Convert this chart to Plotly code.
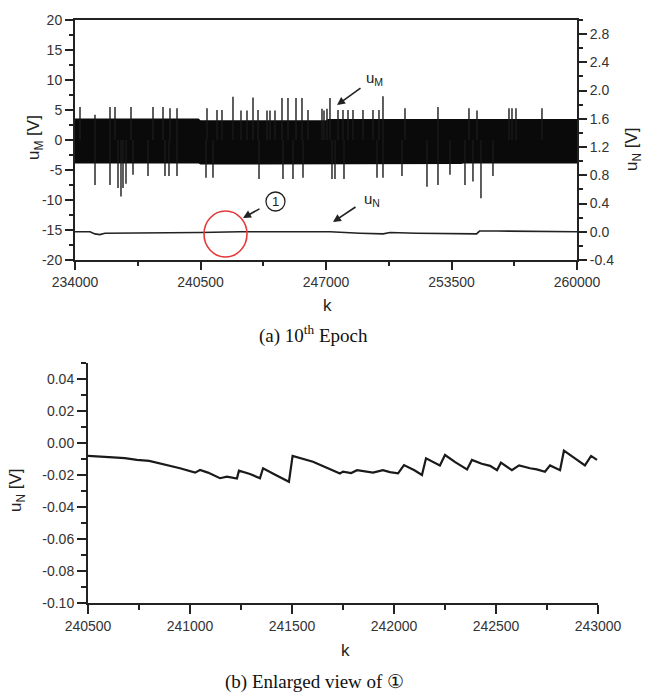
import plotly.graph_objects as go

W, H = 655, 697

# ---------------- Data: panel (a) ----------------
# envelope of the dense u_M band (k, upper, lower)
band_k = [234000, 240400, 240500, 247000, 247100, 254000, 254100, 260000]
band_hi = [3.6, 3.6, 3.3, 3.3, 3.5, 3.5, 3.5, 3.5]
band_lo = [-3.9, -3.9, -4.1, -4.1, -4.0, -4.0, -3.9, -3.9]

# upward spikes of u_M
up_k = [234259, 235036, 235813, 236072, 236900, 238040, 238558, 238920, 239283,
        240836, 241354, 241613, 242183, 242597, 242908, 243219, 243478, 243944,
        244099, 244358, 244721, 245031, 245446, 245756, 246067, 246792, 246896,
        247051, 247206, 247621, 247880, 248139, 248398, 248915, 249433, 249744,
        249951, 251091, 252800, 254405, 254820, 256477, 256633, 256840, 258186]
up_v = [5.5, 4.2, 5.5, 5.5, 5.5, 5.5, 5.5, 5.3, 5.3,
        5.3, 5.0, 5.0, 7.2, 4.9, 4.9, 7.1, 5.0, 4.9,
        4.9, 4.9, 7.0, 7.0, 7.0, 7.0, 5.0, 5.2, 4.9,
        5.2, 7.0, 5.0, 5.0, 5.0, 5.0, 5.0, 5.0, 5.0,
        7.3, 5.3, 5.5, 5.3, 4.9, 5.3, 5.3, 5.3, 5.3]

# downward spikes of u_M
dn_k = [235036, 235813, 236227, 236382, 236486, 236641, 237004, 237781, 238661,
        238868, 239283, 240785, 241147, 243530, 244772, 245290, 245808, 247310,
        247465, 247932, 249641, 249951, 250935, 252230, 252800, 253421, 254198,
        254612, 255027, 255648]
dn_v = [-7.5, -7.5, -8.0, -9.4, -8.0, -7.3, -5.8, -6.0, -6.0,
        -6.0, -6.0, -6.3, -6.3, -6.5, -6.5, -6.5, -6.3, -6.5,
        -6.5, -6.5, -6.3, -6.3, -6.0, -7.8, -7.5, -5.8, -7.5,
        -6.9, -9.7, -6.0]

# u_N in panel (a), right axis
un_k = [234000, 234780, 235030, 235290, 235550, 236850, 238920, 240480, 242550,
        245660, 247210, 248760, 249960, 250320, 251700, 254800, 254950, 255850, 260000]
un_v = [0.0, 0.0, -0.03, -0.04, -0.02, -0.02, -0.01, -0.01, 0.0,
        0.005, 0.0, -0.02, -0.03, -0.01, -0.02, -0.03, 0.01, 0.01, 0.0]

# ---------------- Data: panel (b) ----------------
zk = [240500, 240560, 240623, 240680, 240740, 240800, 240853, 240900, 240951,
      241025, 241049, 241088, 241147, 241181, 241230, 241240, 241294, 241343,
      241358, 241420, 241485, 241503, 241550, 241603, 241676, 241735, 241750,
      241790, 241819, 241860, 241897, 241946, 241980, 242020, 242049, 242100,
      242137, 242157, 242225, 242250, 242300, 242358, 242382, 242430, 242471,
      242505, 242524, 242578, 242613, 242667, 242700, 242740, 242765, 242814,
      242833, 242880, 242936, 242966, 242995]
zv = [-0.0081, -0.0084, -0.0090, -0.0095, -0.0106, -0.0112, -0.0127, -0.0140, -0.0158,
      -0.0185, -0.0169, -0.0185, -0.0220, -0.0210, -0.0222, -0.0173, -0.0194, -0.0220,
      -0.0158, -0.0200, -0.0242, -0.0081, -0.0098, -0.0117, -0.0158, -0.0190, -0.0179,
      -0.0188, -0.0170, -0.0180, -0.0185, -0.0170, -0.0182, -0.0190, -0.0138, -0.0170,
      -0.0200, -0.0096, -0.0140, -0.0075, -0.0120, -0.0165, -0.0106, -0.0130, -0.0143,
      -0.0170, -0.0123, -0.0170, -0.0140, -0.0158, -0.0165, -0.0180, -0.0140, -0.0170,
      -0.0048, -0.0090, -0.0140, -0.0081, -0.0106]

# tick labels
xa_ticks = [234000, 240500, 247000, 253500, 260000]
ya_ticks = [-20, -15, -10, -5, 0, 5, 10, 15, 20]
ya_text = ["-20", "-15", "-10", "-5", "0", "5", "10", "15", "20"]
y2_ticks = [-0.4, 0.0, 0.4, 0.8, 1.2, 1.6, 2.0, 2.4, 2.8]
y2_text = ["-0.4", "0.0", "0.4", "0.8", "1.2", "1.6", "2.0", "2.4", "2.8"]
xb_ticks = [240500, 241000, 241500, 242000, 242500, 243000]
yb_ticks = [-0.10, -0.08, -0.06, -0.04, -0.02, 0.00, 0.02, 0.04]
yb_text = ["-0.10", "-0.08", "-0.06", "-0.04", "-0.02", "0.00", "0.02", "0.04"]


def px(x):
    return x / W


def py(y):
    return 1 - y / H


fig = go.Figure()

# u_M band
fig.add_trace(go.Scatter(x=band_k, y=band_lo, mode="lines", line=dict(width=0, color="black"),
                         xaxis="x", yaxis="y", showlegend=False, hoverinfo="skip"))
fig.add_trace(go.Scatter(x=band_k, y=band_hi, mode="lines", line=dict(width=0, color="black"),
                         fill="tonexty", fillcolor="#0a0a0a",
                         xaxis="x", yaxis="y", showlegend=False, hoverinfo="skip"))

# spikes
sx, sy = [], []
for k, v in zip(up_k, up_v):
    sx += [k, k, None]
    sy += [0, v, None]
for k, v in zip(dn_k, dn_v):
    sx += [k, k, None]
    sy += [0, v, None]
fig.add_trace(go.Scatter(x=sx, y=sy, mode="lines", line=dict(width=1.4, color="#1a1a1a"),
                         xaxis="x", yaxis="y", showlegend=False, hoverinfo="skip"))

# u_N top
fig.add_trace(go.Scatter(x=un_k, y=un_v, mode="lines", line=dict(width=1.6, color="#222"),
                         xaxis="x", yaxis="y2", showlegend=False))

# u_N zoom
fig.add_trace(go.Scatter(x=zk, y=zv, mode="lines", line=dict(width=2.2, color="#1a1a1a"),
                         xaxis="x2", yaxis="y3", showlegend=False))

tickfont = dict(family="Liberation Sans, Arial", size=14, color="#333")
axline = dict(showline=True, linecolor="#222", linewidth=2, ticks="outside",
              tickcolor="#222", tickwidth=2, showgrid=False, zeroline=False,
              tickfont=tickfont)

fig.update_layout(
    width=W, height=H, autosize=False,
    margin=dict(l=0, r=0, t=0, b=0, autoexpand=False),
    paper_bgcolor="white", plot_bgcolor="white",
    xaxis=dict(domain=[px(75), px(577)], anchor="y", range=[234000, 260000],
               tickmode="array", tickvals=xa_ticks, ticktext=[str(t) for t in xa_ticks],
               ticklen=8, mirror=True,
               minor=dict(tickmode="linear", tick0=234000, dtick=3250, ticklen=4,
                          ticks="outside", tickcolor="#222", tickwidth=2),
               **axline),
    yaxis=dict(domain=[py(260), py(20)], anchor="x", range=[-20, 20],
               tickmode="array", tickvals=ya_ticks, ticktext=ya_text, ticklen=8,
               minor=dict(tickmode="linear", tick0=-20, dtick=2.5, ticklen=4,
                          ticks="outside", tickcolor="#222", tickwidth=2),
               **axline),
    yaxis2=dict(overlaying="y", side="right", anchor="x", range=[-0.4, 3.0],
                tickmode="array", tickvals=y2_ticks, ticktext=y2_text, ticklen=8,
                minor=dict(tickmode="linear", tick0=-0.4, dtick=0.2, ticklen=4,
                           ticks="outside", tickcolor="#222", tickwidth=2),
                **axline),
    xaxis2=dict(domain=[px(88), px(598)], anchor="y3", range=[240500, 243000],
                tickmode="array", tickvals=xb_ticks, ticktext=[str(t) for t in xb_ticks],
                ticklen=9,
                minor=dict(tickmode="linear", tick0=240500, dtick=250, ticklen=5,
                           ticks="outside", tickcolor="#222", tickwidth=2),
                **axline),
    yaxis3=dict(domain=[py(603), py(363)], anchor="x2", range=[-0.10, 0.05],
                tickmode="array", tickvals=yb_ticks, ticktext=yb_text, ticklen=9,
                minor=dict(tickmode="linear", tick0=-0.10, dtick=0.01, ticklen=5,
                           ticks="outside", tickcolor="#222", tickwidth=2),
                **axline),
)

lab = dict(family="Liberation Sans, Arial", size=17, color="#222")
serif = dict(family="Liberation Serif, Times New Roman", size=19, color="#111")
ann = []


def text(x, y, t, font, angle=0):
    ann.append(dict(x=px(x), y=py(y), xref="paper", yref="paper", text=t, showarrow=False,
                    font=font, textangle=angle, xanchor="center", yanchor="middle"))


text(35, 138, "u<sub>M</sub> [V]", lab, -90)
text(633, 149, "u<sub>N</sub> [V]", lab, -90)
text(327, 306, "k", lab)
text(313, 334, "(a) 10<sup>th</sup> Epoch", serif)
text(17, 490, "u<sub>N</sub> [V]", lab, -90)
text(345, 650, "k", lab)
text(314, 682, "(b) Enlarged view of \u2460", serif)

small = dict(family="Liberation Sans, Arial", size=15, color="#222")
text(374, 79, "u<sub>M</sub>", small)
text(372, 200, "u<sub>N</sub>", small)
text(275.5, 201.5, "1", dict(family="Liberation Sans, Arial", size=13, color="#222"))

# arrows (head in data coords, tail offset in px)
for hx, hy, dx, dy in [(247569, 5.83, 25, -18), (247362, -13.67, 24, -16),
                       (242701, -13.0, 18, -10)]:
    ann.append(dict(x=hx, y=hy, xref="x", yref="y", ax=dx, ay=dy, text="",
                    showarrow=True, arrowhead=2, arrowsize=1, arrowwidth=1.6,
                    arrowcolor="#222", standoff=0))
fig.update_layout(annotations=ann)

fig.add_shape(type="circle", xref="x", yref="y", x0=240681, x1=242908, y0=-19.5, y1=-11.83,
              line=dict(color="#e53a3a", width=1.6))
fig.add_shape(type="circle", xref="x", yref="y", x0=243892, x1=244876, y0=-11.83, y1=-8.67,
              line=dict(color="#222", width=1.3))

fig.write_html("out.html")
